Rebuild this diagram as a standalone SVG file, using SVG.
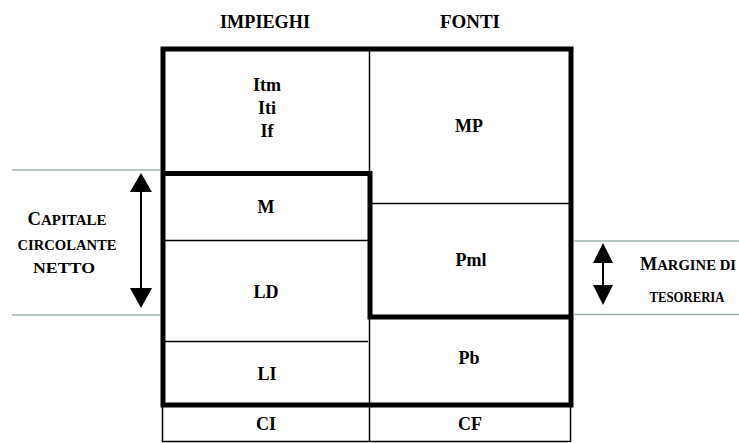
<svg xmlns="http://www.w3.org/2000/svg" width="739" height="443" viewBox="0 0 739 443">
<style>
.thin{stroke:#000;stroke-width:1.5;fill:none}
.thick{stroke:#000;stroke-width:5;fill:none}
.guide{stroke:#9db3aa;stroke-width:1.5;fill:none}
</style>
<rect width="739" height="443" fill="#fff"/>
<g id="connectors">
<line class="guide" x1="12" y1="170" x2="160" y2="170"/>
<line class="guide" x1="12" y1="315" x2="160" y2="315"/>
<line class="guide" x1="574" y1="241" x2="739" y2="241"/>
<line class="guide" x1="574" y1="314.5" x2="739" y2="314.5"/>
<line x1="141" y1="192" x2="141" y2="288" stroke="#000" stroke-width="2"/>
<path d="M141,173 L130,192 L152,192 Z" fill="#000"/>
<path d="M141,308 L130,288 L152,288 Z" fill="#000"/>
<line x1="603" y1="262" x2="603" y2="286" stroke="#000" stroke-width="2"/>
<path d="M603,243 L593,263 L613,263 Z" fill="#000"/>
<path d="M603,305 L593,285 L613,285 Z" fill="#000"/>
</g>
<g id="frame">
<line class="thin" x1="369.5" y1="49" x2="369.5" y2="173"/>
<line class="thin" x1="369.5" y1="317" x2="369.5" y2="441.5"/>
<line class="thin" x1="163" y1="240.5" x2="368" y2="240.5"/>
<line class="thin" x1="163" y1="341.5" x2="368" y2="341.5"/>
<line class="thin" x1="372" y1="203.5" x2="571" y2="203.5"/>
<rect class="thin" x="162.5" y="405" width="408" height="36.5"/>
<rect class="thick" x="163" y="49" width="408" height="356"/>
<path class="thick" d="M163,173.5 L370,173.5 L370,317 L571,317"/>
</g>
<g font-family="Liberation Serif" font-weight="bold" font-size="18" text-anchor="middle" fill="#000">
<g id="headers">
<text x="265" y="28" textLength="90" lengthAdjust="spacingAndGlyphs">IMPIEGHI</text>
<text x="470" y="28" textLength="60" lengthAdjust="spacingAndGlyphs">FONTI</text>
</g>
<g id="impieghi-fissi"><text x="267" y="91">Itm</text><text x="267" y="114">Iti</text><text x="267" y="137">If</text></g>
<g id="mp"><text x="469" y="132">MP</text></g>
<g id="m"><text x="266" y="213">M</text></g>
<g id="ld"><text x="266" y="298">LD</text></g>
<g id="li"><text x="267" y="380">LI</text></g>
<g id="pml"><text x="471" y="266">Pml</text></g>
<g id="pb"><text x="469" y="364">Pb</text></g>
<g id="ci"><text x="266" y="430">CI</text></g>
<g id="cf"><text x="470" y="430">CF</text></g>
<g id="ccn" font-size="14.5">
<text x="67" y="225" textLength="79" lengthAdjust="spacingAndGlyphs"><tspan font-size="18">C</tspan>APITALE</text>
<text x="67" y="250" textLength="99" lengthAdjust="spacingAndGlyphs">CIRCOLANTE</text>
<text x="64" y="273" textLength="62" lengthAdjust="spacingAndGlyphs">NETTO</text>
</g>
<g id="mt" font-size="14.5">
<text x="688" y="270" textLength="96" lengthAdjust="spacingAndGlyphs"><tspan font-size="18">M</tspan>ARGINE DI</text>
<text x="687" y="302" textLength="75" lengthAdjust="spacingAndGlyphs">TESORERIA</text>
</g>
</g>
</svg>
